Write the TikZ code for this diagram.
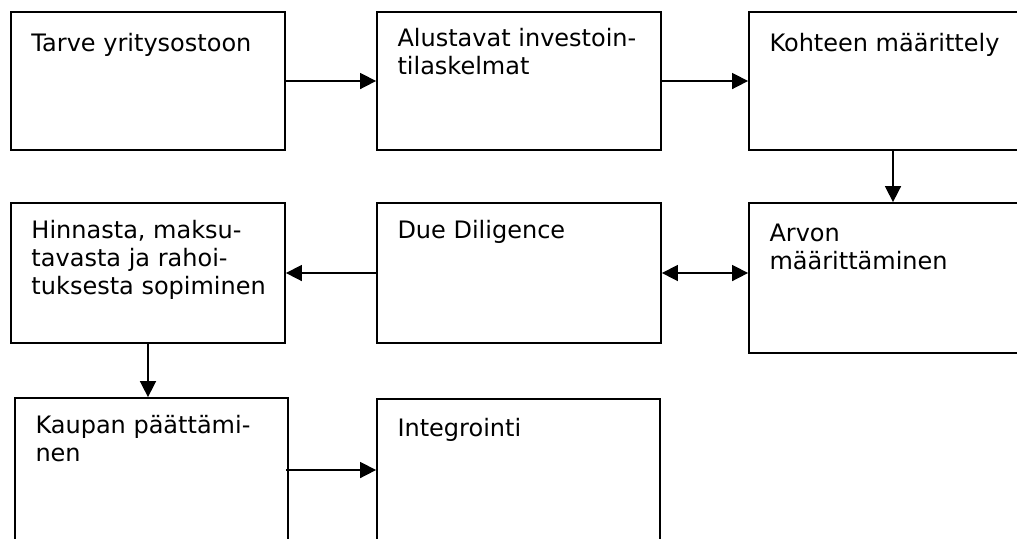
\documentclass[tikz,border=0pt]{standalone}
\usepackage{fontspec}
\setmainfont{DejaVu Sans}
\usetikzlibrary{positioning,calc,arrows.meta}

\begin{document}
\begin{tikzpicture}[
	x=0.5pt, y=-0.5pt,
	stage/.style={draw, line width=0.9pt, inner sep=0pt, minimum width=142pt, minimum height=69pt},
	lbl/.style={font=\fontsize{12}{14}\selectfont, align=left, inner sep=0pt},
	flow/.style={->, >={Triangle[length=8pt,width=8pt]}, line width=0.8pt}
	]
	\useasboundingbox (0,0) rectangle (1017,538);
	\clip (0,0) rectangle (1017,538);
	
	% Rivi 1: tarve -> alustavat -> kohde
	\node[stage, minimum width=137pt] (tarve) at (148,81) {};
	\node[stage] (alust) at (519,81) {};
	\node[stage, minimum width=144pt] (kohde) at (893,81) {};
	\node[lbl, below right=11pt and 10.5pt of tarve.north west] {Tarve yritysostoon};
	\node[lbl, below right=8.5pt and 10.5pt of alust.north west] {Alustavat investoin-\\tilaskelmat};
	\node[lbl, below right=11pt and 10.5pt of kohde.north west] {Kohteen määrittely};
	
	% Rivi 2: hinnasta <- due diligence <-> arvo
	\node[stage, minimum width=137pt, minimum height=70pt] (hinta) at (148,273) {};
	\node[stage, minimum height=70pt] (due) at (519,273) {};
	\node[stage, minimum width=144pt, minimum height=75pt] (arvo) at (893,278) {};
	\node[lbl, below right=9pt and 10.5pt of hinta.north west] {Hinnasta, maksu-\\tavasta ja rahoi-\\tuksesta sopiminen};
	\node[lbl, below right=9pt and 10.5pt of due.north west] {Due Diligence};
	\node[lbl, below right=10.5pt and 10.5pt of arvo.north west] {Arvon\\määrittäminen};
	
	% Rivi 3: kauppa -> integrointi (alareuna jää kuvan ulkopuolelle)
	\node[stage, minimum width=136.5pt, minimum height=72pt] (kauppa) at (151.5,470) {};
	\node[stage, minimum width=141.5pt, minimum height=71pt] (integr) at (518.5,470) {};
	\node[lbl, below right=9pt and 10.5pt of kauppa.north west] {Kaupan päättämi-\\nen};
	\node[lbl, below right=10pt and 10.5pt of integr.north west] {Integrointi};
	
	% Nuolet
	\draw[flow] (tarve) -- (alust);
	\draw[flow] (alust) -- (kohde);
	\draw[flow] (kohde) -- (arvo);
	\draw[flow] (due) -- (hinta);
	\draw[flow, <->] (due.east) -- (due.east -| arvo.west);
	\draw[flow] (hinta.south) -- (hinta.south |- kauppa.north);
	\draw[flow, shorten <=-1.5pt] (kauppa) -- (integr);
\end{tikzpicture}
\end{document}
